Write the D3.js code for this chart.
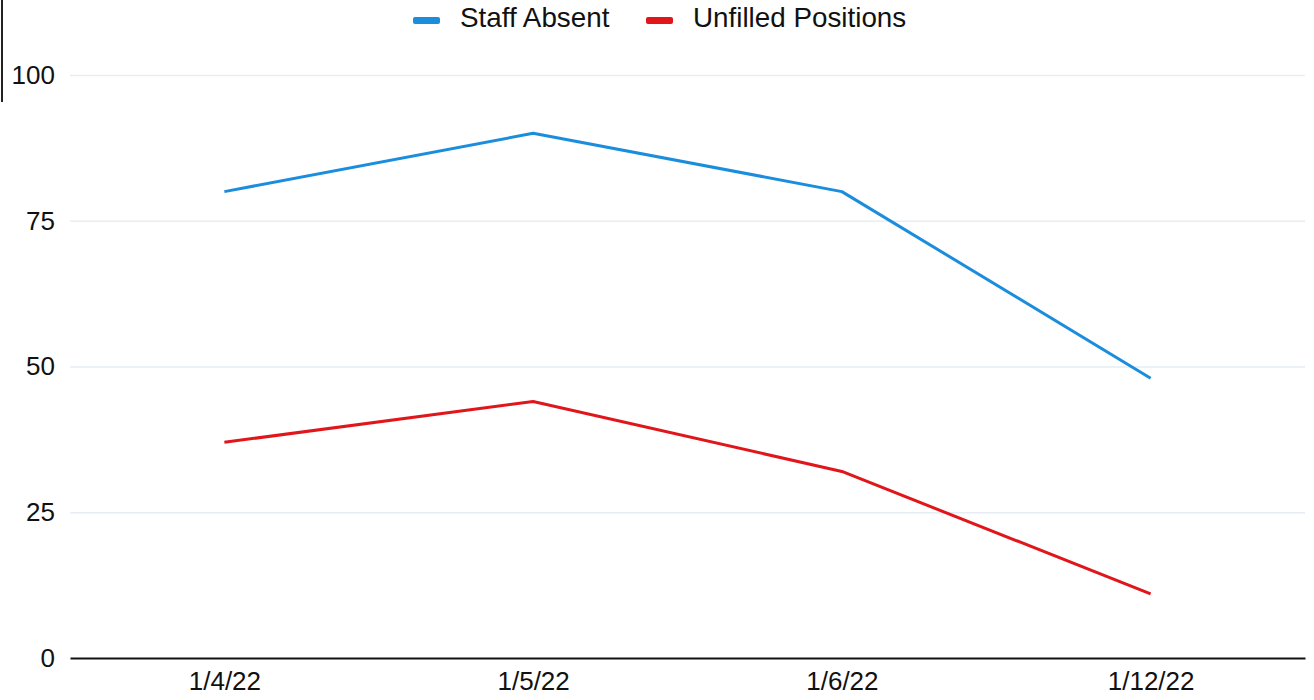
<!DOCTYPE html>
<html>
<head>
<meta charset="utf-8">
<script src="https://cdn.jsdelivr.net/npm/d3@7"></script>
<style>
  body { margin: 0; background: #fff; }
  svg { display: block; font-family: "Liberation Sans", Arial, sans-serif; }
</style>
</head>
<body>
<div></div>
<script>
const width = 1314
const height = 700

const dates = ['1/4/22', '1/5/22', '1/6/22', '1/12/22']
const staffAbsent = [80, 90, 80, 48]
const unfilledPositions = [37, 44, 32, 11]
const yTicks = [0, 25, 50, 75, 100]
const seriesNames = ['Staff Absent', 'Unfilled Positions']
const seriesColors = ['#1b8ddd', '#e0161b']

let svg = d3.select('div').append('svg')
    .attr('width', width)
    .attr('height', height)

const margin = {left: 70, right: 9, top: 75, bottom: 42}

const x = d3.scalePoint()
    .domain(dates)
    .range([margin.left, width - margin.right])
    .padding(0.5)

const y = d3.scaleLinear()
    .domain([0, 100])
    .range([height - margin.bottom, margin.top])

// scan edge mark at top-left
svg.append('line')
    .attr('x1', 2).attr('x2', 2)
    .attr('y1', 0).attr('y2', 102)
    .attr('stroke', '#222')
    .attr('stroke-width', 2)

// gridlines + y labels
let yAxis = svg.append('g')
    .attr('transform', 'translate(' + margin.left + ',0)')
    .call(d3.axisLeft(y).tickValues(yTicks)
        .tickSize(-(width - margin.left - margin.right))
        .tickPadding(15))
yAxis.select('.domain').remove()
yAxis.selectAll('line')
    .attr('stroke', d => d === 0 ? 'none' : '#e6edf4')
    .attr('stroke-width', 1.5)
yAxis.selectAll('text')
    .attr('fill', '#111')
    .style('font-size', '26px')
    .style('font-family', '"Liberation Sans", Arial, sans-serif')

// x axis
let xAxis = svg.append('g')
    .attr('transform', 'translate(0,' + y(0) + ')')
    .call(d3.axisBottom(x).tickSize(0).tickPadding(14).tickSizeOuter(0))
xAxis.select('.domain')
    .attr('stroke', '#111')
    .attr('stroke-width', 2.2)
xAxis.selectAll('text')
    .attr('fill', '#111')
    .style('font-size', '26px')
    .style('font-family', '"Liberation Sans", Arial, sans-serif')

// lines
const line = d3.line()
    .x((d, i) => x(dates[i]))
    .y(d => y(d))

const series = [staffAbsent, unfilledPositions]
svg.selectAll('path.series')
    .data(series)
    .enter()
    .append('path')
    .attr('class', 'series')
    .attr('d', d => line(d))
    .attr('fill', 'none')
    .attr('stroke', (d, i) => seriesColors[i])
    .attr('stroke-width', 3)
    .attr('stroke-linejoin', 'round')

// legend
const legendX = [413, 646]
let legend = svg.selectAll('g.legend')
    .data(seriesNames)
    .enter()
    .append('g')
    .attr('class', 'legend')
    .attr('transform', (d, i) => 'translate(' + legendX[i] + ',0)')

legend.append('rect')
    .attr('y', 17)
    .attr('width', 27)
    .attr('height', 7)
    .attr('rx', 2)
    .attr('fill', (d, i) => seriesColors[i])

legend.append('text')
    .attr('x', 47)
    .attr('y', 27)
    .attr('fill', '#111')
    .style('font-size', '27.8px')
    .text(d => d)
</script>
</body>
</html>
